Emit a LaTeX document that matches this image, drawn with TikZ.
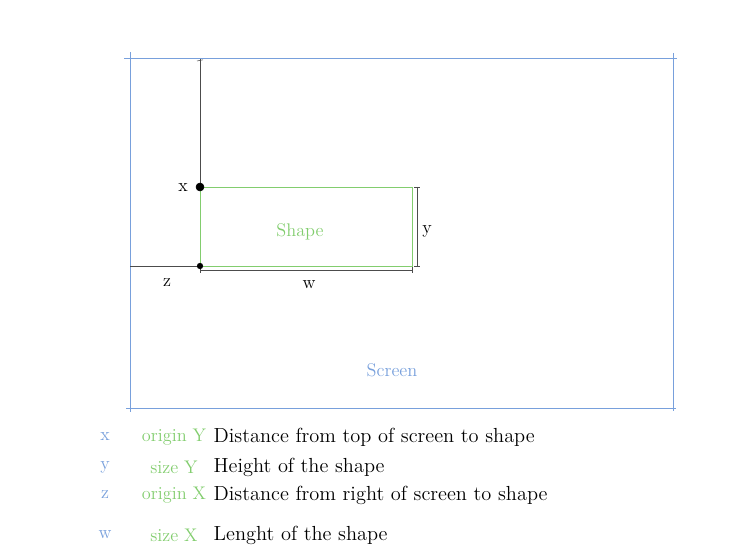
\documentclass[tikz,border=0pt]{standalone}
\usepackage{tikz}
\definecolor{screenblue}{RGB}{120,160,220}
\definecolor{shapegreen}{RGB}{130,205,110}
\tikzset{
  screenline/.style={draw=screenblue, thin},
  shapeline/.style={draw=shapegreen, thin},
  dimline/.style={draw=black!70, thin},
  legend/.style={font=\fontsize{13}{15}\selectfont, inner sep=1pt},
  legendtext/.style={font=\fontsize{14.5}{17}\selectfont, inner sep=1pt, anchor=west},
}

\begin{document}
\begin{tikzpicture}
				%%%%% START %%%%%
				\useasboundingbox (0, 0) rectangle (18.5, 13.875);
				
				% screen
				\draw[screenline] (3.1, 12.425) -- (16.925, 12.425);
				\draw[screenline] (3.15, 3.675) -- (16.9, 3.675);
				\draw[screenline] (3.25, 12.575) -- (3.25, 3.575);
				\draw[screenline] (16.825, 12.55) -- (16.825, 3.6);
				
				% shape
				\draw[shapeline] (5, 9.2) rectangle (10.3, 7.225);
				
				% distances
				\draw[dimline] (5, 12.4) -- (5, 9.2);
				\draw[dimline] (4.925, 12.35) -- (5.075, 12.38);
				\draw[dimline] (3.25, 7.225) -- (5, 7.225);
				\draw[dimline] (5, 7.225) -- (5, 7.05);
				\draw[dimline] (5, 7.125) -- (10.3, 7.125);
				\draw[dimline] (10.3, 7.2) -- (10.3, 7.05);
				\draw[dimline] (10.425, 9.2) -- (10.425, 7.225);
				\draw[dimline] (10.35, 9.2) -- (10.5, 9.2);
				\draw[dimline] (10.35, 7.225) -- (10.5, 7.225);
				
				\draw[fill=black] (5, 9.2) circle (0.1);
				\draw[fill=black] (5, 7.225) circle (0.07);
				
				\node[legend] (labX) at (4.575, 9.175) {x};
				\node[legend] (labZ) at (4.175, 6.8) {z};
				\node[legend] (labW) at (7.725, 6.75) {w};
				\node[legend] (labY) at (10.675, 8.1) {y};
				\node[legend, text=shapegreen] (shapeName) at (7.5, 8.075) {Shape};
				\node[legend, text=screenblue] (screenName) at (9.8, 4.625) {Screen};
				
				% legend
				\node[legend, text=screenblue] (keyX) at (2.625, 2.95) {x};
				\node[legend, text=screenblue] (keyY) at (2.625, 2.2) {y};
				\node[legend, text=screenblue] (keyZ) at (2.625, 1.5) {z};
				\node[legend, text=screenblue] (keyW) at (2.625, 0.5) {w};
				
				\node[legend, text=shapegreen] (propX) at (4.35, 2.95) {origin Y};
				\node[legend, text=shapegreen] (propY) at (4.35, 2.2) {size Y};
				\node[legend, text=shapegreen] (propZ) at (4.35, 1.5) {origin X};
				\node[legend, text=shapegreen] (propW) at (4.35, 0.5) {size X};
				
				\node[legendtext] (textX) at (5.3, 2.95) {Distance from top of screen to shape};
				\node[legendtext] (textY) at (5.3, 2.2) {Height of the shape};
				\node[legendtext] (textZ) at (5.3, 1.5) {Distance from right of screen to shape};
				\node[legendtext] (textW) at (5.3, 0.5) {Lenght of the shape};
				%%%%% END %%%%%
\end{tikzpicture}
\end{document}
